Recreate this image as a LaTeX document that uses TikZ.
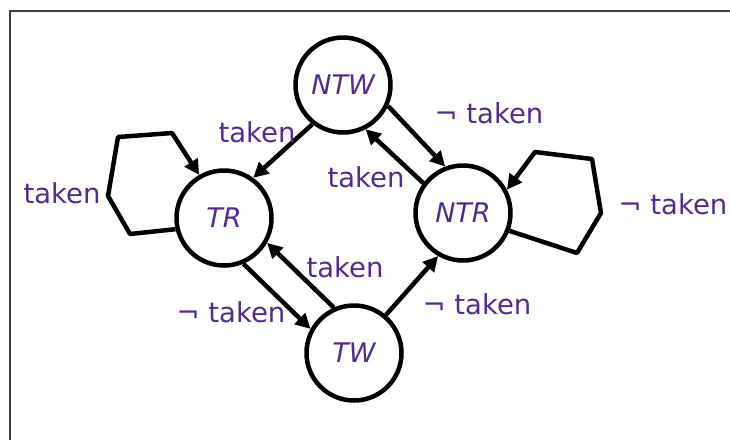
\documentclass[tikz,border=0pt]{standalone}
\usepackage{fontspec}
\setmainfont{DejaVu Sans}
\usetikzlibrary{arrows.meta}
\definecolor{lab}{RGB}{84,42,146}
\definecolor{framecol}{RGB}{64,64,64}
\begin{document}
\begin{tikzpicture}[x=1pt,y=-1pt,
  state/.style={circle,draw=black,line width=4.5pt,minimum size=95pt,inner sep=0pt,
    font=\fontsize{27}{30}\selectfont\itshape,text=lab},
  lbl/.style={font=\fontsize{27.5}{30}\selectfont,text=lab,inner sep=0pt},
  edge/.style={line width=4.5pt,line join=round,-{Triangle[length=15pt,width=15pt]}},
  framestyle/.style={line width=2.2pt,draw=framecol}]
\useasboundingbox (0,0) rectangle (730,440);
\coordinate (f1) at (10,440);
\coordinate (f2) at (10,11);
\coordinate (f3) at (730,11);
\draw[framestyle] (f1) -- (f2) -- (f3);

\node[state] (NTW) at (343,85) {NTW};
\node[state] (TR) at (224,218) {TR};
\node[state] (NTR) at (463,213) {NTR};
\node[state] (TW) at (354,353) {TW};

\draw[edge] (NTW.232) -- (TR.54);
\draw[edge] (NTW.-25) -- (NTR.111);
\draw[edge] (NTR.143) -- (NTW.-63);
\draw[edge] (TR.-67) -- (TW.151);
\draw[edge] (TW.114) -- (TR.-30);
\draw[edge] (TW.50) -- (NTR.240);
\draw[edge] (TR.193) -- (130,234) -- (108,196) -- (118,137) -- (172,133) -- (TR.120);
\draw[edge] (NTR.-21) -- (577,253) -- (601,213) -- (592,159) -- (535,152) -- (NTR.28);

\node[lbl] (l1) at (257,132) {taken};
\node[lbl] (l2) at (62,193) {taken};
\node[lbl] (l3) at (489,113) {¬ taken};
\node[lbl] (l4) at (366,177) {taken};
\node[lbl] (l5) at (673,204) {¬ taken};
\node[lbl] (l6) at (345,267) {taken};
\node[lbl] (l7) at (231,312) {¬ taken};
\node[lbl] (l8) at (477,304) {¬ taken};
\end{tikzpicture}
\end{document}
